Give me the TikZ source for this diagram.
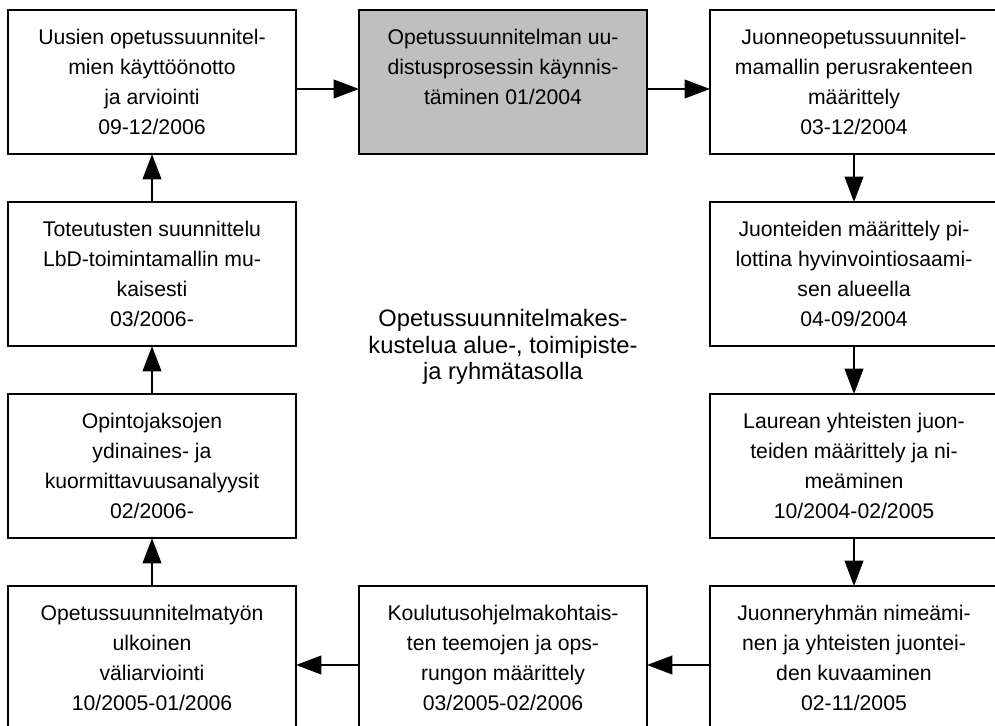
\documentclass[tikz,border=0pt]{standalone}
\usepackage{fontspec}
\setmainfont{Liberation Sans}
\usetikzlibrary{arrows.meta,positioning}

\begin{document}
\begin{tikzpicture}[
    node distance=36pt and 47.25pt,
    stepbox/.style={rectangle,draw,line width=1.4pt,outer sep=0pt,
        minimum width=216pt,minimum height=108pt,align=center,
        font=\fontsize{15.9pt}{22.5pt}\selectfont},
    arrow/.style={-{Triangle[length=19pt,width=14pt]},line width=1.4pt}
]
\useasboundingbox (0,0) rectangle (746.25pt,-543.75pt);

%--- Top row ---%
\node[stepbox] (kayttoonotto) at (114pt,-61.5pt) {Uusien opetussuunnitel-\\mien käyttöönotto\\ja arviointi\\09-12/2006};
\node[stepbox,fill=black!25,right=of kayttoonotto] (kaynnistys) {Opetussuunnitelman uu-\\distusprosessin käynnis-\\täminen 01/2004\\\mbox{}};
\node[stepbox,right=of kaynnistys] (perusrakenne) {Juonneopetussuunnitel-\\mamallin perusrakenteen\\määrittely\\03-12/2004};

%--- Right column, going down ---%
\node[stepbox,below=of perusrakenne] (pilotti) {Juonteiden määrittely pi-\\lottina hyvinvointiosaami-\\sen alueella\\04-09/2004};
\node[stepbox,below=of pilotti] (yhteiset) {Laurean yhteisten juon-\\teiden määrittely ja ni-\\meäminen\\10/2004-02/2005};
\node[stepbox,below=of yhteiset] (juonneryhma) {Juonneryhmän nimeämi-\\nen ja yhteisten juontei-\\den kuvaaminen\\02-11/2005};

%--- Bottom row, going left ---%
\node[stepbox,left=of juonneryhma] (teemat) {Koulutusohjelmakohtais-\\ten teemojen ja ops-\\rungon määrittely\\03/2005-02/2006};
\node[stepbox,left=of teemat] (valiarviointi) {Opetussuunnitelmatyön\\ulkoinen\\väliarviointi\\10/2005-01/2006};

%--- Left column, going up ---%
\node[stepbox,above=of valiarviointi] (ydinaines) {Opintojaksojen\\ydinaines- ja\\kuormittavuusanalyysit\\02/2006-};
\node[stepbox,above=of ydinaines] (toteutus) {Toteutusten suunnittelu\\LbD-toimintamallin mu-\\kaisesti\\03/2006-};

% Text in the middle
\node[align=center,font=\fontsize{17.8pt}{19.9pt}\selectfont] (keskustelu) at ([yshift=-198.75pt]kaynnistys.center) {Opetussuunnitelmakes-\\kustelua alue-, toimipiste-\\ja ryhmätasolla};

%--- Arrows ---%
\draw[arrow] ([yshift=-5.25pt]kayttoonotto.east) -- ([yshift=-5.25pt]kaynnistys.west);
\draw[arrow] ([yshift=-5.25pt]kaynnistys.east) -- ([yshift=-5.25pt]perusrakenne.west);
\draw[arrow] (perusrakenne) -- (pilotti);
\draw[arrow] (pilotti) -- (yhteiset);
\draw[arrow] (yhteiset) -- (juonneryhma);
\draw[arrow] ([yshift=-5.25pt]juonneryhma.west) -- ([yshift=-5.25pt]teemat.east);
\draw[arrow] ([yshift=-5.25pt]teemat.west) -- ([yshift=-5.25pt]valiarviointi.east);
\draw[arrow] (valiarviointi) -- (ydinaines);
\draw[arrow] (ydinaines) -- (toteutus);
\draw[arrow] (toteutus) -- (kayttoonotto);

\end{tikzpicture}
\end{document}
